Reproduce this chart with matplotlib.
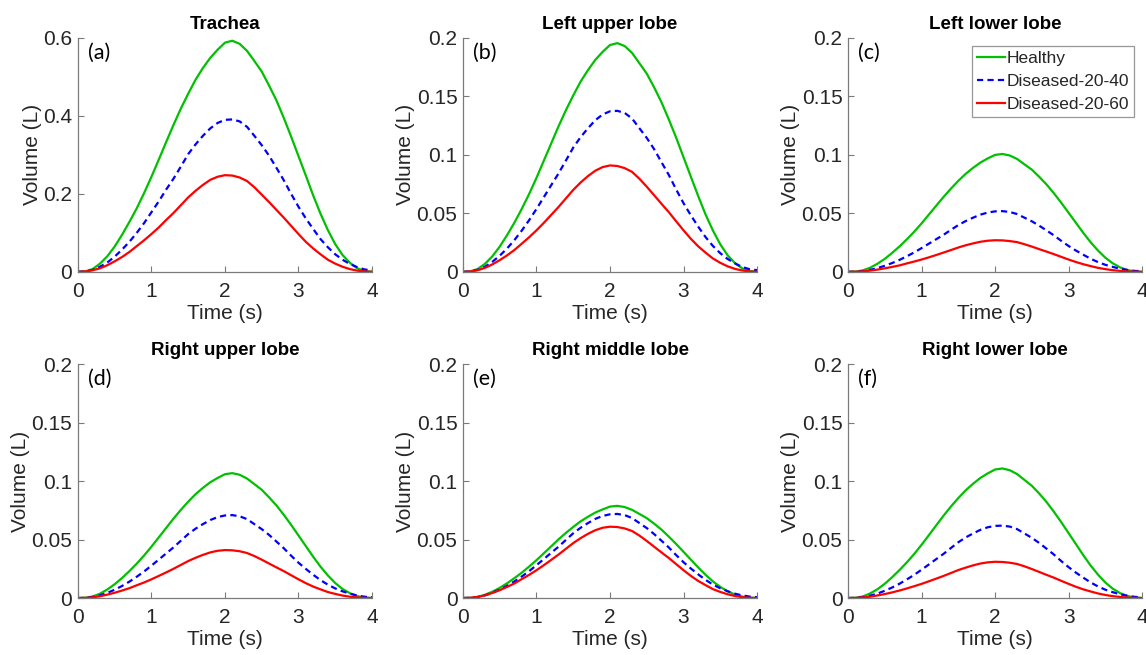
import matplotlib
matplotlib.use("Agg")
import matplotlib.pyplot as plt

plt.rcParams["font.family"] = ["Liberation Sans", "DejaVu Sans"]

# time samples (s)
TIME = [0.0, 0.1, 0.2, 0.3, 0.4, 0.5, 0.6, 0.7, 0.8, 0.9,
        1.0, 1.1, 1.2, 1.3, 1.4, 1.5, 1.6, 1.7, 1.8, 1.9,
        2.0, 2.1, 2.2, 2.3, 2.4, 2.5, 2.6, 2.7, 2.8, 2.9,
        3.0, 3.1, 3.2, 3.3, 3.4, 3.5, 3.6, 3.7, 3.8, 3.9, 4.0]

TITLES = ["Trachea", "Left upper lobe", "Left lower lobe",
          "Right upper lobe", "Right middle lobe", "Right lower lobe"]
PANEL_TAGS = ["(a)", "(b)", "(c)", "(d)", "(e)", "(f)"]
SERIES_NAMES = ["Healthy", "Diseased-20-40", "Diseased-20-60"]

# volume (L)
trachea_healthy = [0, .001, .007, .021, .040, .065, .095, .128, .163, .202,
                   .244, .288, .333, .377, .419, .457, .493, .523, .549, .570,
                   .588, .593, .585, .567, .541, .514, .478, .440, .395, .347,
                   .297, .247, .196, .149, .107, .071, .043, .023, .009, .002, 0]
trachea_d40 = [0, .001, .005, .013, .024, .039, .057, .077, .100, .125,
               .153, .181, .211, .239, .270, .302, .327, .349, .368, .382,
               .390, .391, .386, .372, .349, .325, .298, .267, .235, .200,
               .167, .137, .110, .084, .063, .045, .031, .020, .012, .006, .004]
trachea_d60 = [0, .001, .004, .009, .017, .027, .038, .051, .066, .081,
               .097, .114, .133, .151, .171, .191, .208, .223, .236, .244,
               .248, .247, .242, .233, .217, .198, .179, .159, .139, .118,
               .097, .077, .060, .045, .031, .021, .013, .007, .003, .001, 0]

lul_healthy = [0, .0004, .0024, .0069, .0133, .0216, .0314, .0421, .0539, .0666,
               .0804, .0951, .1098, .1245, .1382, .1509, .1627, .1725, .1813, .1882,
               .1940, .1956, .1931, .1872, .1784, .1695, .1578, .1450, .1303, .1147,
               .0980, .0813, .0647, .0490, .0353, .0235, .0141, .0074, .0029, .0008, 0]
lul_d40 = [0, .0003, .0017, .0044, .0086, .0138, .0200, .0272, .0353, .0442,
           .0538, .0639, .0741, .0842, .0952, .1063, .1152, .1228, .1297, .1346,
           .1373, .1377, .1359, .1311, .1228, .1145, .1049, .0938, .0828, .0704,
           .0587, .0483, .0386, .0297, .0221, .0159, .0110, .0072, .0041, .0022, .0014]
lul_d60 = [0, .0003, .0014, .0034, .0064, .0100, .0141, .0187, .0241, .0296,
           .0355, .0419, .0487, .0555, .0628, .0701, .0764, .0819, .0865, .0896,
           .0910, .0905, .0887, .0855, .0796, .0728, .0655, .0582, .0510, .0432,
           .0355, .0282, .0218, .0164, .0114, .0077, .0047, .0025, .0011, .0003, 0]

lll_healthy = [0, .0002, .0012, .0035, .0069, .0111, .0162, .0217, .0278, .0343,
               .0414, .0490, .0566, .0641, .0712, .0778, .0838, .0889, .0934, .0970,
               .1000, .1008, .0995, .0965, .0919, .0874, .0813, .0747, .0672, .0591,
               .0505, .0419, .0333, .0253, .0182, .0121, .0073, .0038, .0015, .0004, 0]
lll_d40 = [0, .0001, .0006, .0017, .0032, .0052, .0075, .0102, .0133, .0166,
           .0203, .0241, .0279, .0317, .0359, .0400, .0434, .0463, .0489, .0507,
           .0517, .0519, .0512, .0494, .0463, .0432, .0395, .0354, .0312, .0265,
           .0221, .0182, .0146, .0112, .0083, .0060, .0042, .0027, .0016, .0008, .0005]
lll_d60 = [0, .0001, .0004, .0010, .0019, .0030, .0042, .0055, .0072, .0088,
           .0105, .0124, .0144, .0165, .0186, .0208, .0227, .0243, .0257, .0266,
           .0270, .0269, .0263, .0254, .0236, .0216, .0194, .0173, .0151, .0128,
           .0105, .0084, .0065, .0049, .0034, .0023, .0014, .0008, .0003, .0001, 0]

rul_healthy = [0, .0002, .0013, .0037, .0073, .0118, .0171, .0230, .0294, .0364,
               .0439, .0519, .0599, .0679, .0754, .0824, .0888, .0942, .0990, .1027,
               .1059, .1068, .1054, .1022, .0974, .0926, .0861, .0792, .0712, .0626,
               .0535, .0444, .0353, .0268, .0193, .0128, .0077, .0041, .0016, .0004, 0]
rul_d40 = [0, .0001, .0009, .0023, .0044, .0071, .0103, .0140, .0182, .0227,
           .0277, .0329, .0381, .0433, .0490, .0547, .0593, .0632, .0667, .0692,
           .0706, .0709, .0699, .0675, .0632, .0589, .0540, .0483, .0426, .0362,
           .0302, .0249, .0199, .0153, .0114, .0082, .0057, .0037, .0021, .0011, .0007]
rul_d60 = [0, .0001, .0006, .0015, .0029, .0045, .0064, .0084, .0109, .0133,
           .0160, .0189, .0219, .0250, .0283, .0316, .0344, .0369, .0390, .0404,
           .0410, .0408, .0400, .0385, .0359, .0328, .0295, .0262, .0230, .0195,
           .0160, .0127, .0098, .0074, .0051, .0035, .0021, .0011, .0005, .0001, 0]

rml_healthy = [0, .0002, .0009, .0028, .0054, .0087, .0126, .0170, .0217, .0269,
               .0324, .0383, .0442, .0502, .0557, .0608, .0656, .0695, .0731, .0758,
               .0782, .0788, .0778, .0754, .0719, .0683, .0636, .0585, .0525, .0462,
               .0395, .0328, .0261, .0198, .0142, .0095, .0057, .0030, .0012, .0003, 0]
rml_d40 = [0, .0001, .0009, .0023, .0045, .0072, .0104, .0142, .0184, .0230,
           .0281, .0333, .0387, .0439, .0497, .0554, .0601, .0641, .0677, .0702,
           .0716, .0719, .0709, .0684, .0641, .0598, .0547, .0490, .0432, .0367,
           .0306, .0252, .0202, .0155, .0115, .0083, .0058, .0037, .0022, .0012, .0007]
rml_d60 = [0, .0002, .0009, .0023, .0043, .0067, .0095, .0125, .0162, .0198,
           .0238, .0281, .0326, .0372, .0421, .0470, .0512, .0549, .0580, .0601,
           .0610, .0607, .0595, .0573, .0534, .0488, .0439, .0390, .0342, .0290,
           .0238, .0189, .0146, .0110, .0076, .0052, .0032, .0017, .0007, .0002, 0]

rll_healthy = [0, .0002, .0013, .0039, .0075, .0122, .0178, .0239, .0305, .0377,
               .0455, .0538, .0622, .0705, .0783, .0855, .0921, .0977, .1027, .1066,
               .1099, .1108, .1093, .1060, .1010, .0960, .0894, .0821, .0738, .0649,
               .0555, .0461, .0366, .0278, .0200, .0133, .0080, .0042, .0017, .0004, 0]
rll_d40 = [0, .0001, .0007, .0020, .0038, .0062, .0090, .0122, .0159, .0198,
           .0242, .0287, .0333, .0378, .0428, .0477, .0518, .0552, .0583, .0605,
           .0617, .0619, .0611, .0589, .0552, .0515, .0471, .0422, .0372, .0316,
           .0264, .0217, .0174, .0133, .0099, .0071, .0050, .0032, .0019, .0010, .0006]
rll_d60 = [0, .0001, .0005, .0011, .0022, .0034, .0048, .0064, .0082, .0101,
           .0121, .0143, .0166, .0189, .0214, .0239, .0260, .0279, .0295, .0305,
           .0310, .0308, .0302, .0291, .0271, .0248, .0223, .0198, .0174, .0147,
           .0121, .0096, .0074, .0056, .0039, .0026, .0016, .0009, .0004, .0001, 0]

PANEL_DATA = [
    (trachea_healthy, trachea_d40, trachea_d60),
    (lul_healthy, lul_d40, lul_d60),
    (lll_healthy, lll_d40, lll_d60),
    (rul_healthy, rul_d40, rul_d60),
    (rml_healthy, rml_d40, rml_d60),
    (rll_healthy, rll_d40, rll_d60),
]

X_TICKS = [0, 1, 2, 3, 4]
Y_TICKS_TRACHEA = [0, 0.2, 0.4, 0.6]
Y_LABELS_TRACHEA = ["0", "0.2", "0.4", "0.6"]
Y_TICKS_LOBE = [0, 0.05, 0.1, 0.15, 0.2]
Y_LABELS_LOBE = ["0", "0.05", "0.1", "0.15", "0.2"]

COLORS = ["#00C000", "#0000FF", "#FF0000"]
STYLES = ["-", "--", "-"]
AXIS_GREY = "#7a7a7a"
TEXT_DARK = "#262626"

fig = plt.figure(figsize=(11.46, 6.55), dpi=100)

lefts = [0.068, 0.404, 0.740]
bottoms = [0.585, 0.087]
w, h = 0.2566, 0.357

for i, (title, tag, data) in enumerate(zip(TITLES, PANEL_TAGS, PANEL_DATA)):
    r, c = divmod(i, 3)
    ax = fig.add_axes([lefts[c], bottoms[r], w, h])
    for vals, name, col, ls in zip(data, SERIES_NAMES, COLORS, STYLES):
        line, = ax.plot(TIME, vals, color=col, linestyle=ls, linewidth=1.6, label=name)
        if ls == "--":
            line.set_dashes((2.8, 1.9))

    ax.set_xlim(0, 4)
    ax.set_xticks(X_TICKS)
    if i == 0:
        ax.set_ylim(0, 0.6)
        ax.set_yticks(Y_TICKS_TRACHEA)
        ax.set_yticklabels(Y_LABELS_TRACHEA)
    else:
        ax.set_ylim(0, 0.2)
        ax.set_yticks(Y_TICKS_LOBE)
        ax.set_yticklabels(Y_LABELS_LOBE)

    for side in ("top", "right"):
        ax.spines[side].set_visible(False)
    for side in ("left", "bottom"):
        ax.spines[side].set_color(AXIS_GREY)
        ax.spines[side].set_linewidth(0.9)
    ax.tick_params(direction="in", length=4, width=0.8, color=AXIS_GREY,
                   labelsize=15, labelcolor=TEXT_DARK)
    ax.tick_params(axis="x", pad=7)
    ax.tick_params(axis="y", pad=4)

    ax.set_xlabel("Time (s)", fontsize=15, color=TEXT_DARK, labelpad=2.5)
    ax.set_ylabel("Volume (L)", fontsize=15, color=TEXT_DARK, labelpad=1)
    ax.set_title(title, fontsize=13.5, fontweight="bold", color="black", pad=6.5)
    ax.text(0.034, 0.936, tag, transform=ax.transAxes, fontsize=15.5,
            family=["Lato", "DejaVu Sans"], color="black", va="center", ha="left")

    if i == 2:
        leg = ax.legend(loc="upper right", fontsize=12.5, frameon=True, fancybox=False,
                        handlelength=1.6, handletextpad=0.1, borderpad=0.3,
                        labelspacing=0.45, borderaxespad=0.45)
        leg.get_frame().set_edgecolor("#7f7f7f")
        leg.get_frame().set_linewidth(0.9)
        for t in leg.get_texts():
            t.set_color(TEXT_DARK)

fig.savefig("out.png", dpi=100)
